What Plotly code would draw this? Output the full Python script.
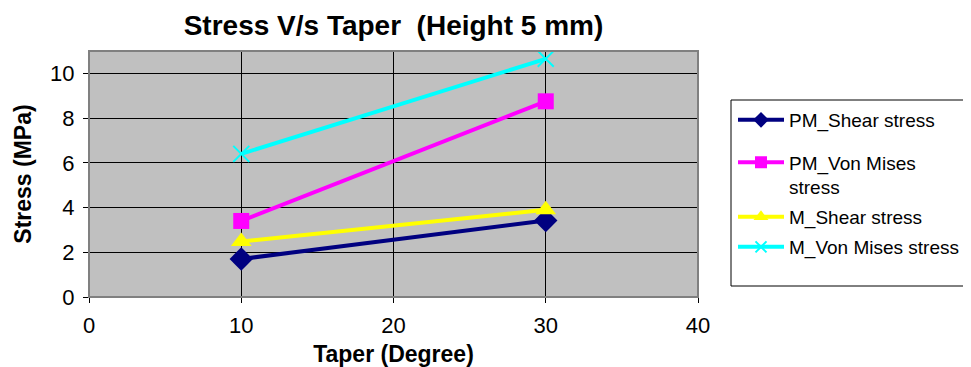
import plotly.graph_objects as go

taper = [10, 30]
pm_shear = [1.7, 3.42]
pm_vonmises = [3.4, 8.75]
m_shear = [2.48, 3.9]
m_vonmises = [6.4, 10.65]

names = ["PM_Shear stress", "PM_Von Mises<br>stress", "M_Shear stress", "M_Von Mises stress"]
colors = ["#000080", "#FF00FF", "#FFFF00", "#00FFFF"]
symbols = ["diamond", "square", "triangle-up", "x-thin"]
marker_sizes = [18, 16, 18, 16]
legend_marker_sizes = [12, 12, 13, 11]
series = [pm_shear, pm_vonmises, m_shear, m_vonmises]

FONT = "Liberation Sans, Arial, sans-serif"
OFF = 8  # page body margin
PL, PT, PR, PB = 89, 51, 698, 297  # plot area in page pixels
W, H = 971 - OFF, 367 - OFF
L, T = PL - OFF, PT - OFF
pw, ph = PR - PL, PB - PT
R, B = W - L - pw, H - T - ph

def px_x(p):
    return (p - PL) / pw

def px_y(p):
    return (PB - p) / ph

def cx(p):
    return (p - OFF) / W

def cy(p):
    return 1 - (p - OFF) / H

legend_ids = ["legend", "legend2", "legend3", "legend4"]
legend_y = [120, 175, 217, 247]

fig = go.Figure()
for name, col, sym, ys, ms in zip(names, colors, symbols, series, marker_sizes):
    fig.add_trace(go.Scatter(
        x=taper, y=ys, name=name, mode="lines+markers", showlegend=False,
        line=dict(color=col, width=4),
        marker=dict(symbol=sym, size=ms, color=col,
                    line=dict(color=col, width=2 if sym == "x-thin" else 0)),
    ))
# legend entries (smaller symbols, as in the original legend)
for name, col, sym, lid, lms in zip(names, colors, symbols, legend_ids, legend_marker_sizes):
    fig.add_trace(go.Scatter(
        x=[None], y=[None], name=name, mode="lines+markers", legend=lid,
        line=dict(color=col, width=4),
        marker=dict(symbol=sym, size=lms, color=col,
                    line=dict(color=col, width=2 if sym == "x-thin" else 0)),
    ))

# legend frame
fig.add_shape(type="rect", xref="paper", yref="paper",
              x0=px_x(731), x1=px_x(990), y0=px_y(286), y1=px_y(100),
              line=dict(color="black", width=1), fillcolor="white", layer="below")
# plot frame
fig.add_shape(type="rect", xref="paper", yref="paper", x0=0, x1=1, y0=0, y1=1,
              line=dict(color="#808080", width=2), layer="above")

legend_common = dict(xanchor="left", yanchor="middle", xref="container", yref="container",
                     bgcolor="rgba(0,0,0,0)", borderwidth=0,
                     font=dict(size=19, family=FONT), itemwidth=46)
legends = {}
for lid, ly in zip(legend_ids, legend_y):
    d = dict(legend_common, x=cx(733), y=cy(ly))
    if lid == "legend2":
        d["valign"] = "top"
    legends[lid] = d

fig.update_layout(
    width=W, height=H,
    margin=dict(l=L, r=R, t=T, b=B, autoexpand=False),
    paper_bgcolor="white", plot_bgcolor="#C0C0C0",
    font=dict(family=FONT, size=22, color="black"),
    title=dict(text="<b>Stress V/s Taper &nbsp;(Height 5 mm)</b>", x=0.5, xref="paper",
               xanchor="center", y=cy(25), yanchor="middle",
               font=dict(size=28, family=FONT)),
    xaxis=dict(range=[0, 40], tickvals=[0, 10, 20, 30, 40], showgrid=True,
               gridcolor="black", gridwidth=1, ticks="outside", ticklen=5,
               tickcolor="black", showline=True, linecolor="black", automargin=False,
               zeroline=False, tickfont=dict(size=22), ticklabelstandoff=4,
               title=dict(text="<b>Taper (Degree)</b>", font=dict(size=23), standoff=12)),
    yaxis=dict(range=[0, 11], tickvals=[0, 2, 4, 6, 8, 10], showgrid=True,
               gridcolor="black", gridwidth=1, ticks="outside", ticklen=5,
               tickcolor="black", showline=True, linecolor="black", automargin=False,
               zeroline=False, tickfont=dict(size=22), ticklabelstandoff=4,
               title=dict(text="<b>Stress (MPa)</b>", font=dict(size=23), standoff=12)),
    showlegend=True,
    **legends,
)

fig.write_html("out.html")
